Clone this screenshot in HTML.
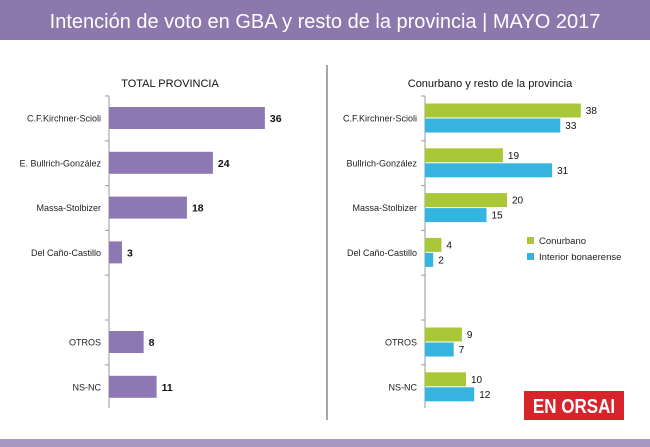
<!DOCTYPE html>
<html><head><meta charset="utf-8"><style>
body{margin:0;width:650px;height:447px;background:#fff;font-family:"Liberation Sans",sans-serif;overflow:hidden;position:relative}
svg{position:absolute;left:0;top:0}
</style></head><body>
<svg width="650" height="447">
<rect x="0" y="0" width="650" height="40" fill="#8c78ad"/>
<text x="325" y="28" text-anchor="middle" font-size="20" fill="#fff">Intención de voto en GBA y resto de la provincia | MAYO 2017</text>
<rect x="0" y="439" width="650" height="8" fill="#a797c4"/>
<line x1="327" y1="65" x2="327" y2="420" stroke="#888" stroke-width="1.5"/>
<text x="170" y="87" text-anchor="middle" font-size="11" fill="#111">TOTAL PROVINCIA</text>
<text x="490" y="87" text-anchor="middle" font-size="11" fill="#111">Conurbano y resto de la provincia</text>
<g id="left"></g><g id="right"></g>
<rect x="527" y="237" width="7" height="7" fill="#a9c838"/>
<text x="539" y="244" font-size="9.5" fill="#222">Conurbano</text>
<rect x="527" y="253" width="7" height="7" fill="#35b4e0"/>
<text x="539" y="260" font-size="9.5" fill="#222">Interior bonaerense</text>
<rect x="524" y="391" width="100" height="29" fill="#d8232a"/>
<text x="574" y="413" text-anchor="middle" font-size="20" font-weight="bold" fill="#fff" transform="translate(574 0) scale(0.85 1) translate(-574 0)">EN ORSAI</text>
</svg>
<script>
const categories=["C.F.Kirchner-Scioli","E. Bullrich-González","Massa-Stolbizer","Del Caño-Castillo","","OTROS","NS-NC"];
const rightCategories=["C.F.Kirchner-Scioli","Bullrich-González","Massa-Stolbizer","Del Caño-Castillo","","OTROS","NS-NC"];
const totalValues=[36,24,18,3,null,8,11];
const conurbanoValues=[38,19,20,4,null,9,10];
const interiorValues=[33,31,15,2,null,7,12];
const NS="http://www.w3.org/2000/svg";
function rowY(i){return 118+i*44.8;}
function lx(v){return 109+v*4.33;}
function rx(v){return 425+v*4.1;}
function mk(p,tag,a){const e=document.createElementNS(NS,tag);for(const k in a)e.setAttribute(k,a[k]);p.appendChild(e);return e;}
const L=document.getElementById('left'),R=document.getElementById('right');
let ax=mk(L,'line',{x1:109,y1:96,x2:109,y2:408,stroke:'#999'});


ax=mk(R,'line',{x1:425,y1:96,x2:425,y2:408,stroke:'#999'});


categories.forEach((c,i)=>{
 const y=rowY(i);
 mk(L,'line',{x1:105,y1:y-22,x2:109,y2:y-22,stroke:'#999'});
 mk(R,'line',{x1:421,y1:y-22,x2:425,y2:y-22,stroke:'#999'});
 if(c){
  const t=mk(L,'text',{x:101,y:y+3.5,'text-anchor':'end','font-size':9,fill:'#222'});t.textContent=c;
  
  
  const t2=mk(R,'text',{x:417,y:y+3.5,'text-anchor':'end','font-size':9,fill:'#222'});t2.textContent=rightCategories[i];
  
  
 }
 const v=totalValues[i];
 if(v!=null){
  const b=mk(L,'rect',{x:109,y:y-11,width:lx(v)-109,height:22,fill:'#8e78b4'});
  
  
  const vl=mk(L,'text',{x:lx(v)+5,y:y+4,'font-size':10.5,'font-weight':'bold',fill:'#111'});vl.textContent=v;
  
  
 }
 const g=conurbanoValues[i],b2=interiorValues[i];
 if(g!=null){
  const gb=mk(R,'rect',{x:425,y:y-14.5,width:rx(g)-425,height:14,fill:'#a9c838'});
  
  
  const gl=mk(R,'text',{x:rx(g)+5,y:y-4,'font-size':10,fill:'#111'});gl.textContent=g;
  
  
  const bb=mk(R,'rect',{x:425,y:y+0.5,width:rx(b2)-425,height:14,fill:'#35b4e0'});
  
  
  const bl=mk(R,'text',{x:rx(b2)+5,y:y+11,'font-size':10,fill:'#111'});bl.textContent=b2;
  
  
 }
});
</script>
</body></html>
